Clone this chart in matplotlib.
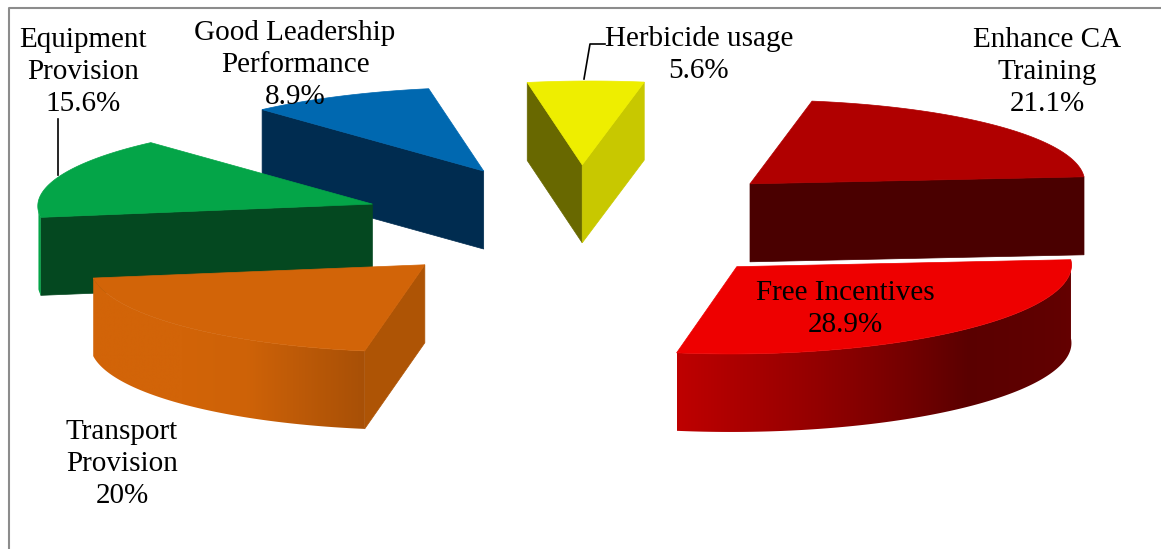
# -*- coding: utf-8 -*-

import numpy as np
import matplotlib
matplotlib.use('Agg')
import matplotlib.pyplot as plt
from matplotlib.colors import to_rgb
from matplotlib.patches import Polygon

# clockwise, starting at the 3 o'clock position
names = ['Free Incentives', 'Transport\nProvision', 'Equipment\nProvision',
         'Good Leadership\nPerformance', 'Herbicide usage', 'Enhance CA\nTraining']
values = [28.9, 20, 15.6, 8.9, 5.6, 21.1]

top_colors = ['#ee0000', '#d26408', '#04a548', '#0068b0', '#eeee00', '#b00000']
start_colors = ['#660000', '#ae5405', '#044820', '#002c50', '#686800', '#4a0000']
end_colors = ['#660000', '#ae5405', '#044820', '#002c50', '#c8c800', '#4a0000']

# label centres in pixels
label_x = [845, 122, 83, 295, 699, 1047]
label_y = [309, 464, 72, 65, 55, 72]
draw_order = [3, 4, 5, 2, 1, 0]

# fake 3d projection, tuned on the picture
CX, CY = 584.5, 223.5
RX, RY = 334, 87
EX, EY = 224, 58.5
SHEAR = 0.24
EXPLODE_SHEAR = 0.31
TILT = 0.021
DEPTH = 78
BACK = 0.96  # far half of the pie looks a bit flatter

plt.rcParams['font.family'] = ['Liberation Serif', 'DejaVu Serif']


def project(deg, rx, ry, shear=SHEAR, back=1.0):
    t = np.radians(deg)
    px = rx * np.cos(t)
    py = ry * np.sin(t)
    if py > 0:
        py = py * back
    return np.array([px - shear * py, -py - TILT * px])


def shade(deg):
    # brightness of the rim against its angle
    return np.interp(deg, [-180, -140, -125, -104, -80, -50, 0],
                     [1.0, 1.0, 0.98, 0.8, 0.62, 0.38, 0.43])


def quad(ax, a, b, color, z):
    drop = np.array([0, DEPTH])
    ax.add_patch(Polygon([a, b, b + drop, a + drop], closed=True, zorder=z,
                         facecolor=color, edgecolor=color, lw=0.5))


def wall(ax, angles, rim, base, z):
    # outer wall: a horizontal gradient clipped to the wall outline
    rim = np.array(rim)
    drop = np.array([0, DEPTH])
    outline = np.vstack([rim, (rim + drop)[::-1]])
    order = np.argsort(rim[:, 0])
    xs = np.linspace(rim[:, 0].min(), rim[:, 0].max(), 400)
    col = np.interp(xs, rim[order, 0], angles[order])
    img = np.array([[base * shade(a) for a in col]])
    patch = Polygon(outline, closed=True, facecolor='none', edgecolor='none',
                    transform=ax.transData)
    ax.add_patch(patch)
    im = ax.imshow(img, extent=[xs[0], xs[-1], outline[:, 1].max(), outline[:, 1].min()],
                   aspect='auto', interpolation='bilinear', zorder=z)
    im.set_clip_path(patch)


fig = plt.figure(figsize=(11.61, 5.49), dpi=100)
ax = fig.add_axes([0, 0, 1, 1])

# chart frame, only top and left are in the crop
ax.plot([1161, 8.5, 8.5], [7.5, 7.5, 549], color='#8c8c8c', lw=1.5)

total = sum(values)
sweeps = [v / total * 360 for v in values]
starts = [-sum(sweeps[:i]) for i in range(len(values))]

for n, i in enumerate(draw_order):
    z = 2 + 2 * n
    t1 = starts[i]
    t2 = t1 - sweeps[i]
    mid = (t1 + t2) / 2
    apex = np.array([CX, CY]) + project(mid, EX, EY, EXPLODE_SHEAR)
    angles = np.linspace(t1, t2, 200)
    rim = [apex + project(a, RX, RY, back=BACK) for a in angles]
    base = np.array(to_rgb(top_colors[i]))

    # radial faces that look at the viewer
    if np.cos(np.radians(t1)) < 0:
        quad(ax, apex, rim[0], start_colors[i], z)
    if np.cos(np.radians(t2)) > 0:
        quad(ax, apex, rim[-1], end_colors[i], z)

    front = np.sin(np.radians(angles)) < 0
    if front.sum() > 1:
        wall(ax, angles[front], [r for r, f in zip(rim, front) if f], base, z)

    ax.add_patch(Polygon([apex] + rim, closed=True, facecolor=top_colors[i],
                         edgecolor=top_colors[i], lw=0.5, zorder=z + 1))

# leader lines
ax.plot([58, 58], [119, 175], color='black', lw=1.2, zorder=50)
ax.plot([605, 590, 584], [44, 44, 79], color='black', lw=1.2, zorder=50)

for name, v, x, y in zip(names, values, label_x, label_y):
    ax.text(x, y, '%s\n%g%%' % (name, v), ha='center', va='center',
            fontsize=21, linespacing=1.31, color='black', zorder=60)

ax.set_xlim(0, 1161)
ax.set_ylim(549, 0)
ax.axis('off')

fig.savefig('out.png', dpi=100)
